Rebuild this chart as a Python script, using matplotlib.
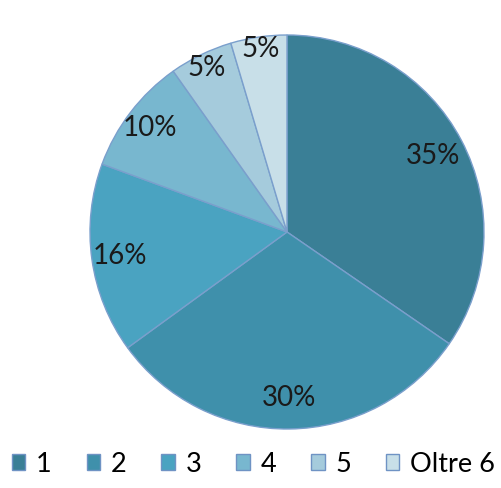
import matplotlib.pyplot as plt
import numpy as np

# data (shares in %, labels are rounded)
labels = ['1', '2', '3', '4', '5', 'Oltre 6']
values = [34.6, 30.4, 15.6, 9.6, 5.2, 4.6]
colors = ['#3a7f96', '#3f90ab', '#4aa3c1', '#78b7cf', '#a5cbdc', '#c8dfe8']
label_r = [0.84, 0.84, 0.855, 0.875, 0.93, 0.945]

plt.rcParams['font.family'] = ['Lato', 'DejaVu Sans']

fig = plt.figure(figsize=(5.02, 4.89), dpi=100)
ax = fig.add_axes([90 / 502, 59 / 489, 394 / 502, 394 / 489])

wedges, _ = ax.pie(values, colors=colors, startangle=90, counterclock=False,
                   wedgeprops=dict(edgecolor='#7a9fcc', linewidth=1.0))

total = sum(values)
for w, v, r in zip(wedges, values, label_r):
    ang = np.deg2rad((w.theta1 + w.theta2) / 2)
    ax.text(r * np.cos(ang), r * np.sin(ang), '{:.0f}%'.format(v / total * 100),
            ha='center', va='center', fontsize=20, color='#1a1a1a')

ax.set_xlim(-1, 1)
ax.set_ylim(-1, 1)
ax.set_aspect('equal')

handles = [plt.Rectangle((0, 0), 1, 1, facecolor=c, edgecolor='#6f93c4', linewidth=1) for c in colors]
fig.legend(handles, labels, loc='center', bbox_to_anchor=(0.505, 1 - 465 / 489), ncol=6,
           frameon=False, fontsize=19.5, handlelength=0.5, handleheight=0.55,
           handletextpad=0.4, columnspacing=1.28, borderaxespad=0, borderpad=0)

fig.savefig('out.png', dpi=100)
